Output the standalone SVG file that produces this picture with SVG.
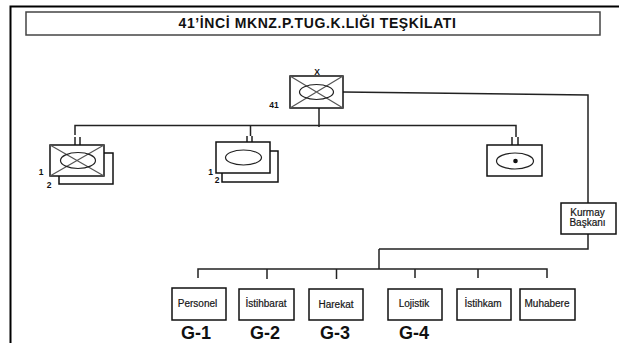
<svg xmlns="http://www.w3.org/2000/svg" width="619" height="343" viewBox="0 0 619 343">
<style>
text{font-family:"Liberation Sans",Arial,sans-serif;fill:#111;text-anchor:middle}
.l{fill:none;stroke:#222;stroke-width:1.500}
.b{fill:#fff;stroke:#111;stroke-width:1.500}
.x{fill:none;stroke:#555;stroke-width:1.200}
.e{fill:none;stroke:#222;stroke-width:1.200}
.s{font-size:10px;stroke:#222;stroke-width:.2}
.n{font-size:8.500px;font-weight:bold}
.g{font-size:18px;font-weight:bold}
</style>
<rect width="619" height="343" fill="#fff"/>
<g id="frame"><path d="M10.500 343V6.500H619" fill="none" stroke="#000" stroke-width="2"/></g>
<g id="title"><rect x="26" y="12" width="574" height="23" fill="#fff" stroke="#444" stroke-width="1.500"/><text x="317.500" y="28" font-size="14" font-weight="bold" letter-spacing=".6">41’İNCİ MKNZ.P.TUG.K.LIĞI  TEŞKİLATI</text></g>
<g id="connectors">
<path class="l" d="M343 92L588 95V203M588 234V249H379M379 269V249"/>
<path class="l" d="M198 278V269H547V278M267 269V279M336.500 269V279M415 269V278M478 269V278"/>
<path class="l" d="M319 108V127M75 135V125.500H516V137M250.500 125.500V136"/>
<path class="l" d="M75 137V145M80 137V145M247 136V142M252 136V142M512 137V145M518 137V145"/>
</g>
<g id="hq"><rect class="b" x="290" y="76" width="53" height="32"/><path class="x" d="M290 76L343 108M290 108L343 76"/><ellipse class="e" cx="316.500" cy="92" rx="17" ry="7.500"/><text class="n" x="317" y="75">X</text><text class="n" x="274" y="108">41</text></g>
<g id="unit-left"><rect class="b" x="59" y="153" width="54" height="31"/><rect class="b" x="50" y="145" width="54" height="31"/><path class="x" d="M50 145L104 176M50 176L104 145"/><ellipse class="e" cx="78" cy="160.500" rx="17.500" ry="8"/><text class="n" x="41" y="175">1</text><text class="n" x="49" y="188">2</text></g>
<g id="unit-center"><rect class="b" x="222" y="151" width="56" height="31"/><rect class="b" x="216" y="142" width="54" height="31"/><ellipse class="e" cx="243.500" cy="157.500" rx="18" ry="7.500"/><text class="n" x="210.500" y="175">1</text><text class="n" x="217" y="183">2</text></g>
<g id="unit-right"><rect class="b" x="487" y="145" width="55" height="31"/><ellipse class="e" cx="515" cy="161" rx="18.500" ry="8"/><circle cx="515.500" cy="161" r="2.300" fill="#111"/></g>
<g id="kurmay"><rect class="b" x="561" y="203" width="55" height="31"/><text class="s" x="587.500" y="216">Kurmay</text><text class="s" x="587.500" y="226">Başkanı</text></g>
<g id="personel"><rect class="b" x="172" y="288" width="54" height="32"/><text class="s" x="197.500" y="307">Personel</text></g>
<g id="istihbarat"><rect class="b" x="239" y="289" width="55" height="31"/><text class="s" x="266" y="307">İstihbarat</text></g>
<g id="harekat"><rect class="b" x="309" y="289" width="54" height="31"/><text class="s" x="336" y="308">Harekat</text></g>
<g id="lojistik"><rect class="b" x="388" y="289" width="54" height="31"/><text class="s" x="414" y="307">Lojistik</text></g>
<g id="istihkam"><rect class="b" x="457" y="289" width="54" height="31"/><text class="s" x="483" y="307">İstihkam</text></g>
<g id="muhabere"><rect class="b" x="520" y="289" width="55" height="31"/><text class="s" x="547" y="307">Muhabere</text></g>
<g id="g-labels"><text class="g" x="196" y="339">G-1</text><text class="g" x="265" y="339">G-2</text><text class="g" x="335" y="339">G-3</text><text class="g" x="414" y="339">G-4</text></g>
</svg>
